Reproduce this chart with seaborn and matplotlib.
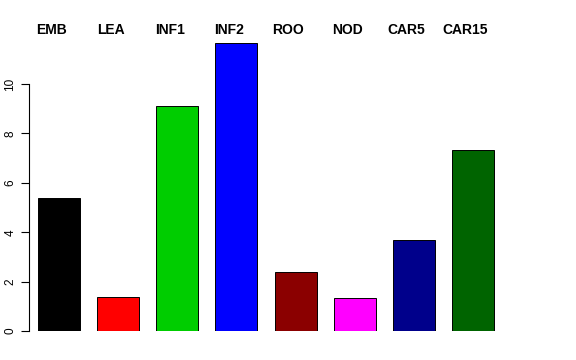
import matplotlib
matplotlib.use('Agg')
import matplotlib.pyplot as plt
import matplotlib.transforms as mtransforms
import seaborn as sns
import pandas as pd

# Values
tissues = ['EMB', 'LEA', 'INF1', 'INF2', 'ROO', 'NOD', 'CAR5', 'CAR15']
values = [5.38, 1.38, 9.11, 11.66, 2.39, 1.34, 3.68, 7.33]
bar_colors = ['#000000', '#FF0000', '#00CD00', '#0000FF',
              '#8B0000', '#FF00FF', '#00008B', '#006400']
y_ticks = [0, 2, 4, 6, 8, 10]

df = pd.DataFrame({'tissue': tissues, 'value': values})

sns.set_style('white')
plt.rcParams['font.family'] = ['Liberation Sans', 'DejaVu Sans']
plt.rcParams['text.color'] = 'black'
plt.rcParams['ytick.color'] = 'black'

fig = plt.figure(figsize=(5.76, 3.6), dpi=100)
ax = fig.add_axes([29 / 576, 29 / 360, 491 / 576, 296.4 / 360])

sns.barplot(data=df, x='tissue', y='value', hue='tissue', palette=bar_colors,
            legend=False, width=0.712, edgecolor='black', linewidth=0.7,
            saturation=1, ax=ax)

ax.set_xlim(-0.507, 7.795)
ax.set_ylim(0, 12)
ax.set_xlabel('')
ax.set_ylabel('')
ax.set_xticks([])
ax.set_yticks(y_ticks)
ax.set_yticklabels([str(t) for t in y_ticks], rotation=90, va='center',
                   fontsize=8.5, color='black')
ax.tick_params(axis='y', left=True, length=6, width=0.8, pad=3.2,
               color='black')

for side in ['top', 'right', 'bottom']:
    ax.spines[side].set_visible(False)
ax.spines['left'].set_bounds(0, 10)
ax.spines['left'].set_linewidth(0.8)
ax.spines['left'].set_color('black')

# Tissue names above the bars (slightly left of each bar centre)
trans = mtransforms.blended_transform_factory(ax.transData, fig.transFigure)
for i, name in enumerate(tissues):
    ax.text(i - 0.125, 1 - 30 / 360, name, transform=trans, ha='center',
            va='center', fontsize=10, fontweight='bold', color='black')

fig.savefig('out.png', dpi=100)
